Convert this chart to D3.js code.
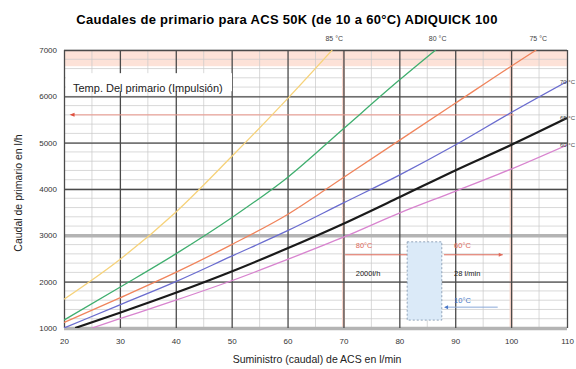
<!DOCTYPE html>
<html>
<head>
<meta charset="utf-8">
<script src="https://cdn.jsdelivr.net/npm/d3@7"></script>
<style>
  body { margin: 0; background: #fff; }
  svg { font-family: "Liberation Sans", Arial, sans-serif; }
</style>
</head>
<body>
<svg id="chart"></svg>
<script>
// Datos (caudal ACS en l/min, caudal primario en l/h)
const titulo = "Caudales de primario para ACS 50K (de 10 a 60°C) ADIQUICK 100";
const xTicks = [20, 30, 40, 50, 60, 70, 80, 90, 100, 110];
const yTicks = [1000, 2000, 3000, 4000, 5000, 6000, 7000];
const temperaturas = ["85 °C", "80 °C", "75 °C", "70 °C", "65 °C", "60 °C"];
const colores = ["#f6d27a", "#3fae6e", "#f0845c", "#6a6ccf", "#1a1a1a", "#d884cf"];
const grosores = [1.3, 1.3, 1.3, 1.3, 2.2, 1.3];

const serie85 = [[20, 1620], [30, 2480], [40, 3500], [50, 4700], [60, 5950], [68, 7000]];
const serie80 = [[20, 1170], [30, 1880], [40, 2600], [50, 3380], [60, 4250], [70, 5300], [80, 6350], [86.5, 7000]];
const serie75 = [[20, 1120], [30, 1650], [40, 2200], [50, 2800], [60, 3450], [70, 4250], [80, 5050], [90, 5850], [100, 6650], [104.5, 7000]];
const serie70 = [[20, 1000], [30, 1500], [40, 2000], [50, 2550], [60, 3100], [70, 3700], [80, 4300], [90, 4950], [100, 5650], [110, 6320]];
const serie65 = [[22, 1000], [30, 1330], [40, 1760], [50, 2220], [60, 2720], [70, 3250], [80, 3820], [90, 4400], [100, 4950], [110, 5530]];
const serie60 = [[25, 1000], [30, 1200], [40, 1600], [50, 2020], [60, 2480], [70, 2960], [80, 3480], [90, 3950], [100, 4430], [110, 4950]];
const series = [serie85, serie80, serie75, serie70, serie65, serie60];

const config = {
  width: 576,
  height: 369,
  margin: { top: 50, right: 9, bottom: 41, left: 64 }
};

const svg = d3.select("#chart")
  .attr("width", config.width)
  .attr("height", config.height);

const innerW = config.width - config.margin.left - config.margin.right;
const innerH = config.height - config.margin.top - config.margin.bottom;

const x = d3.scaleLinear().domain([20, 110]).range([0, innerW]);
const y = d3.scaleLinear().domain([1000, 7000]).range([innerH, 0]);

// Titulo
svg.append("text")
  .attr("x", 287)
  .attr("y", 24)
  .attr("text-anchor", "middle")
  .style("font-size", "13px")
  .style("font-weight", "bold")
  .style("letter-spacing", "0.3px")
  .text(titulo);

const chart = svg.append("g")
  .attr("transform", `translate(${config.margin.left},${config.margin.top})`);

svg.append("defs").append("clipPath").attr("id", "clip")
  .append("rect").attr("width", innerW).attr("height", innerH);

// Banda rosa superior
chart.append("rect")
  .attr("x", 0)
  .attr("y", y(7000))
  .attr("width", innerW)
  .attr("height", y(6650) - y(7000))
  .attr("fill", "#fde2d8");

// Rejilla secundaria
chart.append("g").selectAll("line")
  .data(d3.range(1000, 7001, 200))
  .join("line")
  .attr("x1", 0).attr("x2", innerW)
  .attr("y1", d => y(d)).attr("y2", d => y(d))
  .attr("stroke", "#c8c8c8")
  .attr("stroke-width", 0.7);

chart.append("g").selectAll("line")
  .data(d3.range(25, 110, 10))
  .join("line")
  .attr("x1", d => x(d)).attr("x2", d => x(d))
  .attr("y1", 0).attr("y2", innerH)
  .attr("stroke", "#c8c8c8")
  .attr("stroke-width", 0.7);

// Lineas verticales rosadas (suaves)
chart.append("g").selectAll("line")
  .data([70, 100])
  .join("line")
  .attr("x1", d => x(d)).attr("x2", d => x(d))
  .attr("y1", 0).attr("y2", innerH)
  .attr("stroke", "#f8d3c8")
  .attr("stroke-width", 3);

// Ejes con rejilla principal
const yAxis = d3.axisLeft(y)
  .tickValues(yTicks)
  .tickSize(-innerW)
  .tickPadding(7)
  .tickFormat(d => d);

const xAxis = d3.axisBottom(x)
  .tickValues(xTicks)
  .tickSize(-innerH)
  .tickPadding(10)
  .tickFormat(d => d);

const gy = chart.append("g").call(yAxis);
gy.select(".domain").remove();
gy.selectAll(".tick line")
  .attr("stroke", d => (d === 1000 || d === 3000) ? "#b4b4b4" : "#4a4a4a")
  .attr("stroke-width", d => (d === 1000 || d === 3000) ? 3.5 : 1.3);

const gx = chart.append("g").attr("transform", `translate(0,${innerH})`).call(xAxis);
gx.select(".domain").remove();
gx.selectAll(".tick line").attr("stroke", "#4a4a4a").attr("stroke-width", 1.3);

chart.selectAll(".tick text")
  .attr("fill", "#333")
  .style("font-size", "8px");

// Linea roja horizontal (limite)
chart.append("line")
  .attr("x1", x(21.5)).attr("x2", x(100.5))
  .attr("y1", y(5600)).attr("y2", y(5600))
  .attr("stroke", "#ef9a8e")
  .attr("stroke-width", 1);
chart.append("path")
  .attr("d", `M${x(21)},${y(5600)} l5,-2 l0,4 z`)
  .attr("fill", "#e0503f");

// Caja "Temp. Del primario"
chart.append("rect")
  .attr("x", 2).attr("y", y(6500))
  .attr("width", 166).attr("height", 18)
  .attr("fill", "#fff");
chart.append("text")
  .attr("x", 9).attr("y", y(6100))
  .style("font-size", "11px")
  .attr("fill", "#222")
  .text("Temp. Del primario (Impulsión)");

// Curvas
const line = d3.line()
  .x(d => x(d[0]))
  .y(d => y(d[1]))
  .curve(d3.curveMonotoneX);

chart.append("g").attr("clip-path", "url(#clip)")
  .selectAll(".serie")
  .data(series)
  .join("path")
  .attr("class", "serie")
  .attr("d", line)
  .attr("fill", "none")
  .attr("stroke", (d, i) => colores[i])
  .attr("stroke-width", (d, i) => grosores[i]);

// Etiquetas de temperatura
series.forEach((s, i) => {
  const last = s[s.length - 1];
  const top = last[1] >= 7000;
  svg.append("text")
    .attr("x", top ? config.margin.left + x(last[0]) + 2 : config.width - 1)
    .attr("y", top ? config.margin.top - 9 : config.margin.top + y(last[1]) + 2)
    .attr("text-anchor", top ? "middle" : "end")
    .style("font-size", top ? "7px" : "6px")
    .attr("fill", "#444")
    .text(temperaturas[i]);
});

// Esquema del intercambiador
const ann = chart.append("g").style("font-size", "7.5px");
ann.append("line")
  .attr("x1", x(70.3)).attr("x2", x(81.4))
  .attr("y1", y(2580)).attr("y2", y(2580))
  .attr("stroke", "#e06a5a").attr("stroke-width", 1);
ann.append("line")
  .attr("x1", x(88)).attr("x2", x(98.5))
  .attr("y1", y(2580)).attr("y2", y(2580))
  .attr("stroke", "#e06a5a").attr("stroke-width", 1);
ann.append("path")
  .attr("d", `M${x(98.5)},${y(2580)} l-4,-2 l0,4 z`)
  .attr("fill", "#e06a5a");
ann.append("line")
  .attr("x1", x(88.3)).attr("x2", x(97.6))
  .attr("y1", y(1450)).attr("y2", y(1450))
  .attr("stroke", "#8aa8d8").attr("stroke-width", 1);
ann.append("path")
  .attr("d", `M${x(88)},${y(1450)} l4,-2 l0,4 z`)
  .attr("fill", "#4a78c8");
ann.append("rect")
  .attr("x", x(81.4)).attr("y", y(2860))
  .attr("width", x(87.6) - x(81.4)).attr("height", y(1170) - y(2860))
  .attr("fill", "#dbeaf8")
  .attr("stroke", "#7a8fa8")
  .attr("stroke-dasharray", "2,2")
  .attr("stroke-width", 0.8);
ann.append("text").attr("x", x(72.2)).attr("y", y(2720)).attr("fill", "#e06a5a").text("80°C");
ann.append("text").attr("x", x(72.2)).attr("y", y(2130)).attr("fill", "#222").text("2000l/h");
ann.append("text").attr("x", x(89.8)).attr("y", y(2720)).attr("fill", "#e06a5a").text("60°C");
ann.append("text").attr("x", x(89.8)).attr("y", y(2130)).attr("fill", "#222").text("28 l/min");
ann.append("text").attr("x", x(89.8)).attr("y", y(1540)).attr("fill", "#4a78c8").text("10°C");

// Titulos de ejes
svg.append("text")
  .attr("x", 317)
  .attr("y", 363)
  .attr("text-anchor", "middle")
  .style("font-size", "10.5px")
  .attr("fill", "#222")
  .text("Suministro (caudal) de ACS en l/min");

svg.append("text")
  .attr("transform", "translate(22,193) rotate(-90)")
  .attr("text-anchor", "middle")
  .style("font-size", "10.5px")
  .attr("fill", "#222")
  .text("Caudal de primario en l/h");
</script>
</body>
</html>
